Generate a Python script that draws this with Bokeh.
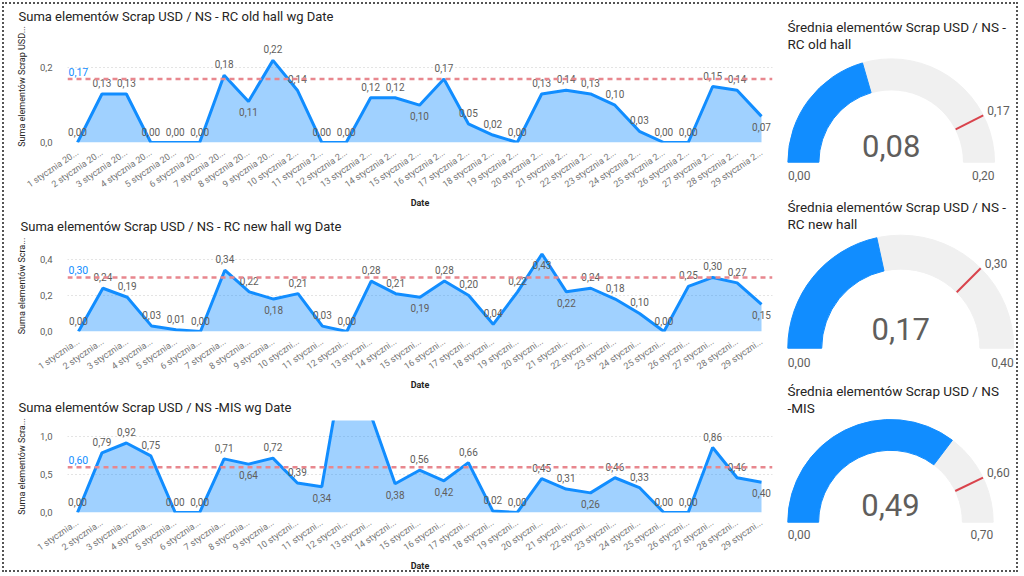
import numpy as np
from bokeh.plotting import figure
from bokeh.layouts import row, column
from bokeh.models import Span, Label, FixedTicker, ColumnDataSource
from bokeh.core.properties import value
from bokeh.embed import file_html
from bokeh.resources import INLINE

FONT_NAME = "Roboto"
FONT = value(FONT_NAME)  # for glyphs only

# ---- data ----
dates_long = ["1 stycznia 20...", "2 stycznia 20...", "3 stycznia 20...", "4 stycznia 20...",
              "5 stycznia 20...", "6 stycznia 20...", "7 stycznia 20...", "8 stycznia 20...",
              "9 stycznia 20...", "10 stycznia 2...", "11 stycznia 2...", "12 stycznia 2...",
              "13 stycznia 2...", "14 stycznia 2...", "15 stycznia 2...", "16 stycznia 2...",
              "17 stycznia 2...", "18 stycznia 2...", "19 stycznia 2...", "20 stycznia 2...",
              "21 stycznia 2...", "22 stycznia 2...", "23 stycznia 2...", "24 stycznia 2...",
              "25 stycznia 2...", "26 stycznia 2...", "27 stycznia 2...", "28 stycznia 2...",
              "29 stycznia 2..."]
dates_short = ["1 stycznia...", "2 stycznia...", "3 stycznia...", "4 stycznia...",
               "5 stycznia...", "6 stycznia...", "7 stycznia...", "8 stycznia...",
               "9 stycznia...", "10 styczni...", "11 styczni...", "12 styczni...",
               "13 styczni...", "14 styczni...", "15 styczni...", "16 styczni...",
               "17 styczni...", "18 styczni...", "19 styczni...", "20 styczni...",
               "21 styczni...", "22 styczni...", "23 styczni...", "24 styczni...",
               "25 styczni...", "26 styczni...", "27 styczni...", "28 styczni...",
               "29 styczni..."]

old_hall = [0.00, 0.13, 0.13, 0.00, 0.00, 0.00, 0.18, 0.11, 0.22, 0.14, 0.00, 0.00, 0.12, 0.12, 0.10,
            0.17, 0.05, 0.02, 0.00, 0.13, 0.14, 0.13, 0.10, 0.03, 0.00, 0.00, 0.15, 0.14, 0.07]
new_hall = [0.00, 0.24, 0.19, 0.03, 0.01, 0.00, 0.34, 0.22, 0.18, 0.21, 0.03, 0.00, 0.28, 0.21, 0.19,
            0.28, 0.20, 0.04, 0.22, 0.43, 0.22, 0.24, 0.18, 0.10, 0.00, 0.25, 0.30, 0.27, 0.15]
mis = [0.00, 0.79, 0.92, 0.75, 0.00, 0.00, 0.71, 0.64, 0.72, 0.39, 0.34, 2.20, 1.30, 0.38, 0.56,
       0.42, 0.66, 0.02, 0.00, 0.45, 0.31, 0.26, 0.46, 0.33, 0.00, 0.00, 0.86, 0.46, 0.40]

# points whose data label sits under the line (1-based day)
below_old = [8, 15, 29]
below_new = [9, 15, 20, 21, 29]
below_mis = [8, 11, 14, 16, 22, 29]

targets = [0.17, 0.30, 0.60]
gauge_max = [0.20, 0.40, 0.70]

ticks_old, ticklab_old = [0, 0.2], ["0,0", "0,2"]
ticks_new, ticklab_new = [0, 0.2, 0.4], ["0,0", "0,2", "0,4"]
ticks_mis, ticklab_mis = [0, 0.5, 1.0], ["0,0", "0,5", "1,0"]

LEFT_W = 780
RIGHT_W = 240


def fmt(v):
    return "{:.2f}".format(v).replace(".", ",")


def line_chart(title, ylabel, xlabels, vals, below, target, yend, yticks, ylabs,
               h, left, top, bottom, xr, title_off, title_standoff):
    x = list(range(1, len(vals) + 1))
    p = figure(width=LEFT_W, height=h, x_range=xr, y_range=(0, yend),
               output_backend="svg", toolbar_location=None,
               min_border_left=left, min_border_right=8, min_border_top=top,
               min_border_bottom=bottom)
    p.outline_line_color = None
    p.background_fill_color = None
    p.border_fill_color = None

    p.title.text = title
    p.title.text_font = FONT_NAME
    p.title.text_font_size = "13px"
    p.title.text_font_style = "normal"
    p.title.text_color = "#252423"
    p.title.align = "left"
    p.title.offset = title_off
    p.title.standoff = title_standoff

    p.xgrid.grid_line_color = None
    p.ygrid.ticker = FixedTicker(ticks=yticks)
    p.ygrid.grid_line_color = "#C8C8C8"
    p.ygrid.grid_line_dash = "1 3"

    ya = p.yaxis[0]
    ya.ticker = FixedTicker(ticks=yticks)
    ya.major_label_overrides = dict(zip(yticks, ylabs))
    ya.axis_label = ylabel
    ya.axis_label_text_font = FONT_NAME
    ya.axis_label_text_font_size = "9px"
    ya.axis_label_text_font_style = "normal"
    ya.axis_label_text_color = "#252423"
    ya.axis_label_standoff = 10
    ya.major_label_text_font = FONT_NAME
    ya.major_label_text_font_size = "9.5px"
    ya.major_label_text_color = "#605E5C"
    ya.major_label_standoff = 9
    ya.axis_line_color = None
    ya.major_tick_line_color = None
    ya.minor_tick_line_color = None

    xa = p.xaxis[0]
    xa.ticker = FixedTicker(ticks=x)
    xa.major_label_overrides = dict(zip(x, xlabels))
    xa.major_label_orientation = 0.6
    xa.axis_label = "Date"
    xa.axis_label_text_font = FONT_NAME
    xa.axis_label_text_font_size = "9px"
    xa.axis_label_text_font_style = "bold"
    xa.axis_label_text_color = "#252423"
    xa.axis_label_standoff = 1
    xa.major_label_text_font = FONT_NAME
    xa.major_label_text_font_size = "9px"
    xa.major_label_text_color = "#777777"
    xa.major_label_standoff = 3
    xa.axis_line_color = None
    xa.major_tick_line_color = None
    xa.minor_tick_line_color = None

    src = ColumnDataSource(dict(x=x, y=vals))
    p.varea(x="x", y1=0, y2="y", source=src, fill_color="#118DFF", fill_alpha=0.4)
    p.line("x", "y", source=src, line_color="#118DFF", line_width=3)
    p.add_layout(Span(location=target, dimension="width", line_color="#E8878E",
                      line_dash="5 4", line_width=2.5))

    # data labels only for points inside the visible value range
    shown = [i for i, v in enumerate(vals) if v <= yend]
    lab_src = ColumnDataSource(dict(
        x=[x[i] for i in shown], y=[vals[i] for i in shown],
        lbl=[fmt(vals[i]) for i in shown],
        off=[11 if x[i] in below else -11 for i in shown]))
    p.text("x", "y", text="lbl", source=lab_src, y_offset="off", text_align="center",
           text_baseline="middle", text_font=FONT, text_font_size="10px",
           text_color="#605E5C")
    p.add_layout(Label(x=1, x_units="screen", y=target, y_offset=3, text=fmt(target),
                       text_font=FONT_NAME, text_font_size="10.5px", text_color="#118DFF",
                       text_baseline="bottom"))
    return p


def gauge(lines, val, vmax, target, h, cx, cy, R, title_y, val_dy, lab_dy):
    w = RIGHT_W
    s = 1.0 / R
    p = figure(width=w, height=h, x_range=(-cx * s, (w - cx) * s),
               y_range=(-(h - cy) * s, cy * s), output_backend="svg",
               toolbar_location=None, min_border=0, x_axis_type=None, y_axis_type=None)
    p.grid.visible = False
    p.outline_line_color = None
    p.background_fill_color = None
    p.border_fill_color = None

    frac = val / vmax
    p.annular_wedge(x=0, y=0, inner_radius=0.7, outer_radius=1.0, start_angle=0,
                    end_angle=np.pi, color="#F0F0F0")
    p.annular_wedge(x=0, y=0, inner_radius=0.7, outer_radius=1.0,
                    start_angle=np.pi * (1 - frac), end_angle=np.pi, color="#118DFF")
    a = np.pi * (1 - target / vmax)
    p.segment(x0=0.7 * np.cos(a), y0=0.7 * np.sin(a), x1=np.cos(a), y1=np.sin(a),
              line_color="#D9434C", line_width=2)

    p.text(x=[0], y=[val_dy * s], text=[fmt(val)], text_align="center",
           text_baseline="middle", text_font=FONT, text_font_size="31px",
           text_color="#605E5C")
    p.text(x=[-1.0], y=[-lab_dy * s], text=[fmt(0)], text_align="left",
           text_baseline="middle", text_font=FONT, text_font_size="12px",
           text_color="#605E5C")
    p.text(x=[1.0], y=[-lab_dy * s], text=[fmt(vmax)], text_align="right",
           text_baseline="middle", text_font=FONT, text_font_size="12px",
           text_color="#605E5C")
    p.text(x=[np.cos(a) + 4 * s], y=[np.sin(a) + 5 * s], text=[fmt(target)],
           text_align="left", text_baseline="middle", text_font=FONT,
           text_font_size="12px", text_color="#605E5C")

    for i, t in enumerate(lines):
        p.add_layout(Label(x=7, y=h - title_y - 17 * i, x_units="screen", y_units="screen",
                           text=t, text_font=FONT_NAME, text_font_size="13.5px",
                           text_color="#252423", text_baseline="middle"))
    return p


c1 = line_chart("Suma elementów Scrap USD / NS - RC old hall wg Date",
                "Suma elementów Scrap USD...", dates_long, old_hall, below_old, targets[0],
                0.30, ticks_old, ticklab_old, 210, 67, 30, 67, (0.59, 29.45), -49, 13)
c2 = line_chart("Suma elementów Scrap USD / NS - RC new hall wg Date",
                "Suma elementów Scra...", dates_short, new_hall, below_new, targets[1],
                0.505, ticks_new, ticklab_new, 182, 62, 28, 61, (0.55, 29.45), -47, 13)
c3 = line_chart("Suma elementów Scrap USD / NS -MIS wg Date",
                "Suma elementów Scra...", dates_short, mis, below_mis, targets[2],
                1.218, ticks_mis, ticklab_mis, 182, 67, 26, 62, (0.59, 29.45), -49, 11)

g1 = gauge(["Średnia elementów Scrap USD / NS -", "RC old hall"], np.mean(old_hall),
           gauge_max[0], targets[0], 190, 110.7, 161.7, 103.3, 26.7, 16.7, 13.3)
g2 = gauge(["Średnia elementów Scrap USD / NS -", "RC new hall"], np.mean(new_hall),
           gauge_max[1], targets[1], 186, 120.3, 157.7, 113.0, 16.7, 19.4, 14.0)
g3 = gauge(["Średnia elementów Scrap USD / NS", "-MIS"], np.mean(mis),
           gauge_max[2], targets[2], 198, 110.0, 145.7, 102.7, 14.0, 17.4, 12.6)

p = row(column(c1, c2, c3), column(g1, g2, g3),
        styles={"outline": "2px dotted #555555", "outline-offset": "-4px"})

open("out.html", "w").write(file_html(p, INLINE))
